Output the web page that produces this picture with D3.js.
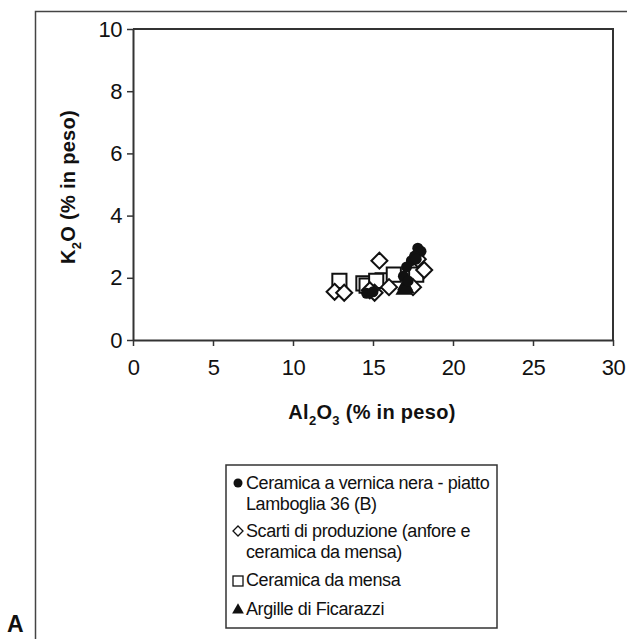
<!DOCTYPE html>
<html><head><meta charset="utf-8">
<script src="https://cdn.jsdelivr.net/npm/d3@7"></script>
<style>body{margin:0;background:#fff}svg{display:block}text{font-family:"Liberation Sans",Arial,sans-serif;fill:#111}</style>
</head><body>
<svg id="c" width="627" height="639"></svg>
<script>
const xTicks=[0,5,10,15,20,25,30];
const yTicks=[0,2,4,6,8,10];
// Ceramica a vernice nera - piatto Lamboglia 36 (B)
const vernice=[[17.8,2.95],[18.0,2.85],[17.6,2.7],[17.4,2.55],[17.1,2.35],[16.9,2.05],[17.2,1.9],[14.6,1.5],[15.0,1.55],[17.7,2.6]];
// Scarti di produzione
const scarti=[[12.6,1.55],[13.2,1.52],[15.1,1.52],[15.4,2.55],[17.8,2.6],[18.2,2.25],[14.8,1.6],[16.0,1.7],[17.5,1.7]];
// Ceramica da mensa
const mensa=[[12.9,1.9],[14.4,1.82],[14.6,1.75],[15.6,1.92],[16.3,2.1],[17.7,2.1],[15.2,1.9]];
// Argille di Ficarazzi
const argille=[[17.0,1.75],[16.9,1.6],[17.1,1.65]];

const svg=d3.select("#c");
const x=d3.scaleLinear().domain([0,30]).range([133,613]);
const y=d3.scaleLinear().domain([0,10]).range([340,29]);

// outer frame (open right/bottom)
svg.append("path").attr("d","M35.5,639 V11.5 H627").attr("fill","none").attr("stroke","#444").attr("stroke-width",1.5);

// plot box top/right
svg.append("path").attr("d",`M${x(0)},${y(10)} H${x(30)} V${y(0)}`).attr("fill","none").attr("stroke","#333").attr("stroke-width",2);

const gx=svg.append("g").attr("transform",`translate(0,${y(0)})`)
 .call(d3.axisBottom(x).tickValues(xTicks).tickSize(6).tickPadding(13).tickSizeOuter(0));
const gy=svg.append("g").attr("transform",`translate(${x(0)},0)`)
 .call(d3.axisLeft(y).tickValues(yTicks).tickSize(6).tickPadding(5).tickSizeOuter(0));
[gx,gy].forEach(g=>{g.select(".domain").attr("stroke","#333").attr("stroke-width",2);
 g.selectAll(".tick line").attr("stroke","#333").attr("stroke-width",1.5);
 g.selectAll("text").style("font-family","Liberation Sans, Arial").style("font-size","22px").style("letter-spacing","-0.5px").attr("fill","#111");});

// markers
const sym=(t,s)=>d3.symbol().type(t).size(s)();
const diamondPath="M0,-8L8,0L0,8L-8,0Z";
svg.append("g").selectAll("path").data(mensa).join("path")
 .attr("transform",d=>`translate(${x(d[0])},${y(d[1])})`).attr("d",sym(d3.symbolSquare,200))
 .attr("fill","#fff").attr("stroke","#111").attr("stroke-width",2);
svg.append("g").selectAll("path").data(scarti).join("path")
 .attr("transform",d=>`translate(${x(d[0])},${y(d[1])})`).attr("d",diamondPath)
 .attr("fill","#fff").attr("stroke","#111").attr("stroke-width",2);
svg.append("g").selectAll("path").data(argille).join("path")
 .attr("transform",d=>`translate(${x(d[0])},${y(d[1])})`).attr("d",sym(d3.symbolTriangle,110))
 .attr("fill","#111");
svg.append("g").selectAll("circle").data(vernice).join("circle")
 .attr("cx",d=>x(d[0])).attr("cy",d=>y(d[1])).attr("r",5.5).attr("fill","#111");

// axis titles
const xt=svg.append("text").attr("x",372).attr("y",419).attr("text-anchor","middle")
 .style("font-weight","bold").style("font-size","20px").style("letter-spacing","0.3px");
xt.append("tspan").text("Al");
xt.append("tspan").text("2").attr("dy",6).style("font-size","13px");
xt.append("tspan").text("O").attr("dy",-6);
xt.append("tspan").text("3").attr("dy",6).style("font-size","13px");
xt.append("tspan").text(" (% in peso)").attr("dy",-6);

const yt=svg.append("text").attr("transform","translate(75,187) rotate(-90)").attr("text-anchor","middle")
 .style("font-weight","bold").style("font-size","20px").style("letter-spacing","0.3px");
yt.append("tspan").text("K");
yt.append("tspan").text("2").attr("dy",6).style("font-size","13px");
yt.append("tspan").text("O (% in peso)").attr("dy",-6);

// legend
const leg=svg.append("g");
leg.append("rect").attr("x",226).attr("y",465).attr("width",271).attr("height",163)
 .attr("fill","#fff").attr("stroke","#333").attr("stroke-width",1.5);
const legItems=[
 {type:"circle",lines:["Ceramica a vernica nera - piatto","Lamboglia 36 (B)"],y:483},
 {type:"diamond",lines:["Scarti di produzione (anfore e","ceramica da mensa)"],y:531},
 {type:"square",lines:["Ceramica da mensa"],y:580},
 {type:"triangle",lines:["Argille di Ficarazzi"],y:609}
];
legItems.forEach(it=>{
 const mx=238, my=it.y;
 if(it.type==="circle") leg.append("circle").attr("cx",mx).attr("cy",my).attr("r",4.5).attr("fill","#111");
 if(it.type==="diamond") leg.append("path").attr("d","M0,-5L5,0L0,5L-5,0Z").attr("transform",`translate(${mx},${my})`).attr("fill","#fff").attr("stroke","#111").attr("stroke-width",1.3);
 if(it.type==="square") leg.append("rect").attr("x",mx-5).attr("y",my-4).attr("width",10).attr("height",10).attr("fill","#fff").attr("stroke","#111").attr("stroke-width",1.3);
 if(it.type==="triangle") leg.append("path").attr("d",sym(d3.symbolTriangle,60)).attr("transform",`translate(${mx},${my+1})`).attr("fill","#111");
 it.lines.forEach((l,i)=>{
  leg.append("text").attr("x",246).attr("y",my+6+i*21).style("font-size","18px").style("letter-spacing","-0.4px").text(l);
 });
});

svg.append("text").attr("x",7).attr("y",632).style("font-weight","bold").style("font-size","23px").text("A");
</script>
</body></html>
